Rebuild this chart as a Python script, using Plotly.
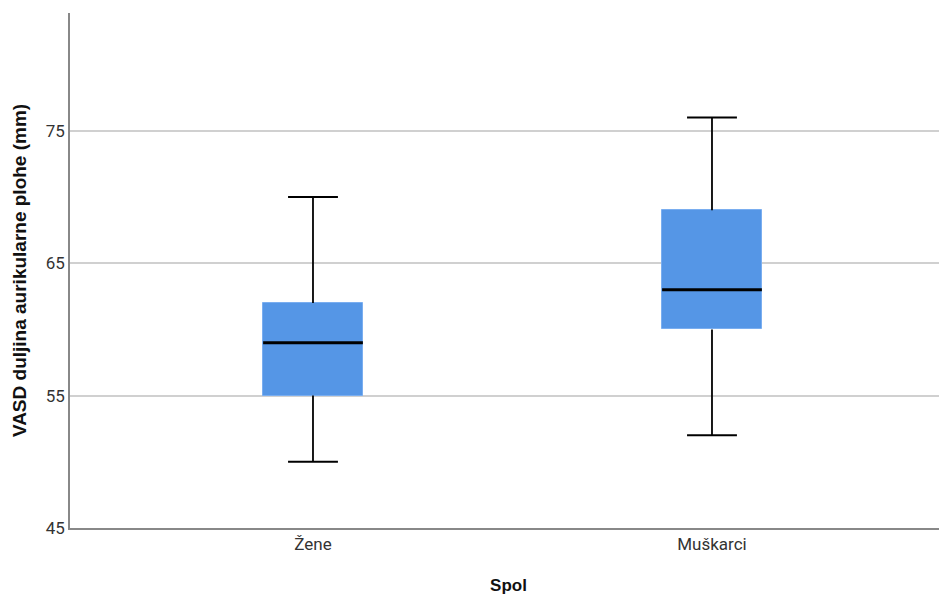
import plotly.graph_objects as go

categories = ["Žene", "Muškarci"]
mins = [50, 52]
q1s = [55, 60]
medians = [59, 63]
q3s = [62, 69]
maxs = [70, 76]
y_ticks = [45, 55, 65, 75]

xs = list(range(len(categories)))
box_w = 0.25
cap_w = 0.125

fig = go.Figure()

# whiskers
wx, wy = [], []
for i in xs:
    wx += [i, i, None, i, i, None]
    wy += [q3s[i], maxs[i], None, mins[i], q1s[i], None]
fig.add_trace(go.Scatter(x=wx, y=wy, mode="lines", line=dict(color="black", width=1.8),
                         hoverinfo="skip", showlegend=False))
# caps
cx, cy = [], []
for i in xs:
    cx += [i - cap_w / 2, i + cap_w / 2, None, i - cap_w / 2, i + cap_w / 2, None]
    cy += [maxs[i], maxs[i], None, mins[i], mins[i], None]
fig.add_trace(go.Scatter(x=cx, y=cy, mode="lines", line=dict(color="black", width=2),
                         hoverinfo="skip", showlegend=False))
# boxes
fig.add_trace(go.Bar(x=xs, y=[q3s[i] - q1s[i] for i in xs], base=q1s, width=box_w,
                     marker=dict(color="#5596E6", line=dict(color="#7AAEF0", width=1)),
                     showlegend=False))
# medians
mx, my = [], []
for i in xs:
    mx += [i - box_w / 2, i + box_w / 2, None]
    my += [medians[i], medians[i], None]
fig.add_trace(go.Scatter(x=mx, y=my, mode="lines", line=dict(color="black", width=3),
                         hoverinfo="skip", showlegend=False))

fig.update_layout(
    width=947, height=599,
    margin=dict(l=62, r=8, t=5, b=79),
    plot_bgcolor="white", paper_bgcolor="white",
    font=dict(family="Roboto, Arial, sans-serif", color="#333333"),
    xaxis=dict(range=[-0.609, 1.589], tickvals=xs, ticktext=categories,
               showgrid=False, zeroline=False, showline=True, linecolor="#888888", linewidth=1.5,
               tickfont=dict(size=17, color="#333333"), ticks="",
               title=dict(text="<b>Spol</b>", font=dict(family="Liberation Sans, Arial", size=17, color="#111111"),
                          standoff=26)),
    yaxis=dict(range=[45, 83.9], tickvals=y_ticks, showgrid=True, gridcolor="#D0D0D0", gridwidth=1.5,
               zeroline=False, showline=True, linecolor="#888888", linewidth=1.5,
               tickfont=dict(size=17, color="#333333"), ticks="",
               title=dict(text="<b>VASD duljina aurikularne plohe (mm)</b>",
                          font=dict(family="Liberation Sans, Arial", size=19, color="#111111"), standoff=14)),
    bargap=0,
)

fig.write_html("out.html")
